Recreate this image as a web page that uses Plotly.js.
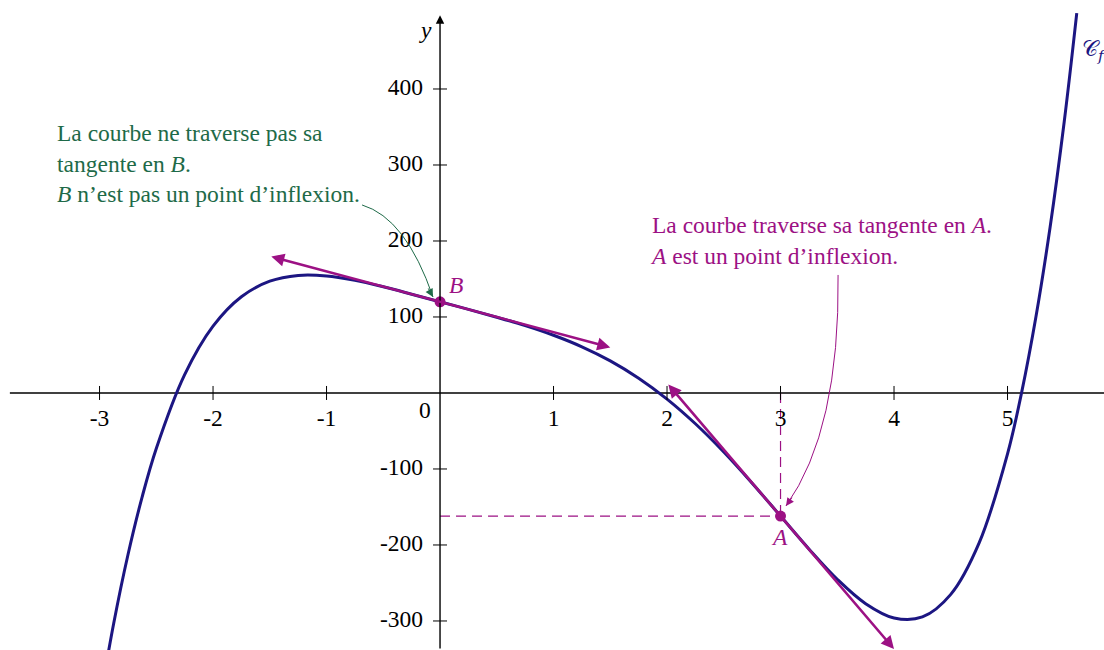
<!DOCTYPE html>
<html>
<head>
<meta charset="utf-8">
<script src="https://cdn.plot.ly/plotly-3.0.1.min.js"></script>
<style>
  html, body { margin: 0; padding: 0; background: #fff; }
  #plot { width: 1104px; height: 650px; }
</style>
</head>
<body>
<div id="plot"></div>
<script>
// curve C_f, points
var curveX = [-3, -2.875, -2.75, -2.625, -2.5, -2.25, -2, -1.75, -1.5, -1.25, -1, -0.75, -0.5, -0.25, 0,
              0.25, 0.5, 0.75, 1, 1.25, 1.5, 1.75, 2, 2.25, 2.5, 2.75, 3, 3.25, 3.5, 3.75, 4,
              4.25, 4.5, 4.75, 5, 5.125, 5.25, 5.375, 5.5, 5.61];
var curveY = [-408, -303, -213.2, -137, -73, 24.2, 88, 126.7, 147.1, 154.7, 154, 148.2, 139.7, 130, 120,
              110, 99.7, 88.7, 76, 60.8, 42.3, 19.5, -8, -40.5, -77.7, -118.7, -162, -205.2, -245.1, -277.2, -296,
              -294.7, -265, -197.3, -80, 1.2, 99.9, 218, 357.5, 499.8];

// points A and B
var ptNames = ["A", "B"];
var ptX = [3, 0];
var ptY = [-162, 120];

// tangent arrows: [start, end] for B then A
var tanBX = [-1.5, 1.5], tanBY = [180, 60];
var tanAX = [2, 4],      tanAY = [13, -337];

// ticks
var xTicks = [-3, -2, -1, 1, 2, 3, 4, 5];
var xTickText = ["-3", "-2", "-1", "1", "2", "3", "4", "5"];
var yTicks = [-300, -200, -100, 100, 200, 300, 400];
var yTickText = ["-300", "-200", "-100", "100", "200", "300", "400"];

var navy = "#1c1682";
var magenta = "#9c1184";
var green = "#1e6a48";
var serif = "'Liberation Serif', 'Times New Roman', serif";
var fs = 23.5;

var traces = [
  {x: curveX, y: curveY, mode: "lines", line: {color: navy, width: 3, shape: "spline", smoothing: 1},
   hoverinfo: "skip"},
  // dashed guides from A to the axes
  {x: [0, ptX[0]], y: [ptY[0], ptY[0]], mode: "lines", line: {color: magenta, width: 1.2, dash: "10px,6px"}},
  {x: [ptX[0], ptX[0]], y: [0, ptY[0]], mode: "lines", line: {color: magenta, width: 1.2, dash: "10px,6px"}},
  // tick marks
  {x: xTicks, y: xTicks.map(function () { return 0; }), mode: "markers",
   marker: {symbol: "line-ns-open", size: 10, color: "black", line: {color: "black", width: 1}}},
  {x: yTicks.map(function () { return 0; }), y: yTicks, mode: "markers",
   marker: {symbol: "line-ew-open", size: 10, color: "black", line: {color: "black", width: 1}}},
  // tick labels
  {x: xTicks, y: xTicks.map(function () { return -35.5; }), mode: "text", text: xTickText,
   textposition: "middle center", textfont: {family: serif, size: fs, color: "black"}},
  {x: yTicks.map(function () { return -0.15; }), y: yTicks, mode: "text", text: yTickText,
   textposition: "middle left", textfont: {family: serif, size: fs, color: "black"}},
  // points
  {x: ptX, y: ptY, mode: "markers", marker: {color: magenta, size: 11}}
];

// curved leaders (start, control, end)
var leadGX = [-0.687, -0.3, -0.062], leadGY = [247.4, 230, 126.3];
var leadMX = [3.507, 3.524, 3.048], leadMY = [155.3, -48.7, -148.7];

function qpath(xs, ys) {
  return "M" + xs[0] + "," + ys[0] + " Q" + xs[1] + "," + ys[1] + " " + xs[2] + "," + ys[2];
}

var shapes = [
  {type: "line", xref: "x", yref: "y", x0: -3.79, x1: 5.85, y0: 0, y1: 0,
   line: {color: "black", width: 1.4}, layer: "below"},
  {type: "path", xref: "x", yref: "y", path: qpath(leadGX, leadGY), line: {color: green, width: 1}},
  {type: "path", xref: "x", yref: "y", path: qpath(leadMX, leadMY), line: {color: magenta, width: 1}}
];

function tangent(xs, ys) {
  return {x: xs[1], y: ys[1], ax: xs[0], ay: ys[0], axref: "x", ayref: "y", xref: "x", yref: "y",
          text: "", showarrow: true, arrowside: "end+start", arrowhead: 2, startarrowhead: 2,
          arrowsize: 1, startarrowsize: 1, arrowwidth: 2.6, arrowcolor: magenta};
}

var annotations = [
  // y axis with arrow
  {x: 0, y: 497, ax: 0, ay: -338.2, axref: "x", ayref: "y", xref: "x", yref: "y", text: "",
   showarrow: true, arrowhead: 2, arrowsize: 1.2, arrowwidth: 1.4, arrowcolor: "black"},
  tangent(tanBX, tanBY),
  tangent(tanAX, tanAY),
  // leader arrowheads
  {x: leadGX[2], y: leadGY[2], ax: -5.5, ay: -10, text: "", showarrow: true, arrowhead: 2,
   arrowsize: 1.6, arrowwidth: 1, arrowcolor: green},
  {x: leadMX[2], y: leadMY[2], ax: 7, ay: -9.8, text: "", showarrow: true, arrowhead: 2,
   arrowsize: 1.6, arrowwidth: 1, arrowcolor: magenta},
  // texts
  {x: -3.392, y: 302, xanchor: "left", yanchor: "middle", align: "left", showarrow: false,
   text: "La courbe ne traverse pas sa<br>tangente en <i>B</i>.<br><i>B</i> n’est pas un point d’inflexion.",
   font: {family: serif, size: fs, color: green}},
  {x: 1.833, y: 200.7, xanchor: "left", yanchor: "middle", align: "left", showarrow: false,
   text: "La courbe traverse sa tangente en <i>A</i>.<br><i>A</i> est un point d’inflexion.",
   font: {family: serif, size: fs, color: magenta}},
  {x: 0.141, y: 142, text: "<i>" + ptNames[1] + "</i>", showarrow: false,
   font: {family: serif, size: fs, color: magenta}},
  {x: 2.987, y: -189.5, text: "<i>" + ptNames[0] + "</i>", showarrow: false,
   font: {family: serif, size: fs, color: magenta}},
  {x: -0.132, y: 477.6, text: "<i>y</i>", showarrow: false, font: {family: serif, size: fs, color: "black"}},
  {x: 5.83, y: -18.4, xanchor: "left", text: "<i>x</i>", showarrow: false,
   font: {family: serif, size: fs, color: "black"}},
  {x: -0.132, y: -22.4, text: "0", showarrow: false, font: {family: serif, size: fs, color: "black"}},
  {x: 5.64, y: 451, xanchor: "left", text: "𝒞<sub><i>f</i></sub>", showarrow: false,
   font: {family: "'DejaVu Serif', 'DejaVu Sans', serif", size: 22, color: navy}}
];

var layout = {
  width: 1104, height: 650,
  margin: {l: 0, r: 0, t: 0, b: 0},
  paper_bgcolor: "white", plot_bgcolor: "white",
  showlegend: false,
  xaxis: {range: [-3.877, 5.85], visible: false, fixedrange: true},
  yaxis: {range: [-338.2, 517.1], visible: false, fixedrange: true},
  shapes: shapes,
  annotations: annotations
};

Plotly.newPlot("plot", traces, layout, {staticPlot: true});
</script>
</body>
</html>
